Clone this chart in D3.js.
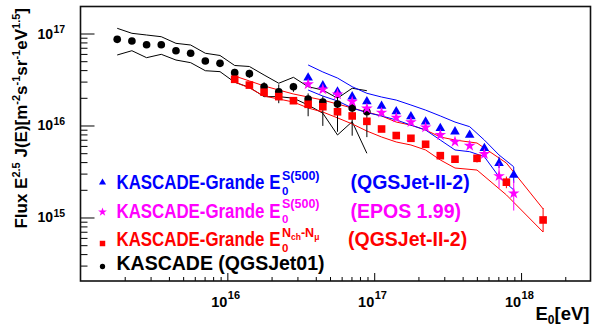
<!DOCTYPE html>
<html>
<head>
<meta charset="utf-8">
<script src="https://cdn.jsdelivr.net/npm/d3@7/dist/d3.min.js"></script>
<style>
  body { margin: 0; background: #fff; }
  text { font-family: "Liberation Sans", Arial, Helvetica, sans-serif; font-weight: bold; }
</style>
</head>
<body>
<div id="chart"></div>
<script>
//Datasets (energies as log10(E/eV), flux in m^-2 s^-1 sr^-1 eV^1.5)

// KASCADE (QGSJet01)
var kascadeLogE = [15.25, 15.35, 15.45, 15.55, 15.65, 15.75, 15.85, 15.95, 16.05, 16.15, 16.25, 16.35, 16.45, 16.55, 16.65, 16.75, 16.85, 16.95];
var kascadeFlux = [8.65e16, 8.28e16, 7.55e16, 7.55e16, 6.50e16, 6.10e16, 5.02e16, 4.74e16, 3.75e16, 3.66e16, 2.64e16, 2.33e16, 2.64e16, 1.94e16, 1.80e16, 1.71e16, 1.55e16, 1.41e16];
var kascadeErrUp = [0.02, 0.02, 0.02, 0.02, 0.02, 0.02, 0.02, 0.02, 0.10, 0.10, 0.12, 0.20, 0.10, 0.15, 0.15, 0.20, 0.20, 0.19];
var kascadeErrDown = [0.02, 0.02, 0.02, 0.02, 0.02, 0.02, 0.02, 0.02, 0.10, 0.10, 0.20, 0.25, 0.12, 0.35, 0.45, 0.50, 0.50, 0.47];
var kascadeSysUp = [1.139e17, 1.005e17, 9.63e16, 9.23e16, 7.82e16, 7.50e16, 6.10e16, 5.77e16, 4.49e16, 4.38e16, 3.54e16, 2.88e16, 3.34e16, 2.64e16, 2.43e16, 1.98e16, 2.54e16, 2.39e16];
var kascadeSysDown = [5.84e16, 6.50e16, 5.46e16, 5.94e16, 5.15e16, 4.82e16, 3.94e16, 3.85e16, 2.95e16, 2.60e16, 2.06e16, 2.06e16, 1.98e16, 1.67e16, 1.36e16, 7.89e15, 1.10e16, 4.99e15];

// KASCADE-Grande S(500), QGSJet-II-2 and EPOS 1.99
var s500LogE = [16.55, 16.65, 16.75, 16.85, 16.95, 17.05, 17.15, 17.25, 17.35, 17.45, 17.55, 17.65, 17.75, 17.85, 17.95];
var s500QgsFlux = [3.31e16, 2.71e16, 2.33e16, 2.06e16, 1.82e16, 1.63e16, 1.42e16, 1.25e16, 1.10e16, 9.33e15, 8.57e15, 7.89e15, 5.65e15, 3.88e15, 2.90e15];
var s500QgsErrUp = [0.02, 0.02, 0.02, 0.02, 0.02, 0.02, 0.02, 0.02, 0.02, 0.03, 0.03, 0.04, 0.08, 0.18, 0.22];
var s500QgsErrDown = [0.02, 0.02, 0.02, 0.02, 0.02, 0.02, 0.02, 0.02, 0.02, 0.03, 0.03, 0.04, 0.08, 0.11, 0.18];
var s500QgsSysUp = [4.55e16, 3.82e16, 3.28e16, 2.64e16, 2.24e16, 2.04e16, 1.89e16, 1.67e16, 1.47e16, 1.27e16, 1.09e16, 9.71e15, 6.95e15, 4.78e15, 3.56e15];
var s500QgsSysDown = [2.43e16, 2.09e16, 1.85e16, 1.55e16, 1.38e16, 1.27e16, 1.15e16, 1.01e16, 8.93e15, 6.95e15, 5.42e15, 5.19e15, 4.58e15, 2.77e15, 1.99e15];
var s500EposFlux = [2.81e16, 2.47e16, 2.18e16, 1.82e16, 1.53e16, 1.38e16, 1.22e16, 1.09e16, 9.55e15, 7.89e15, 6.67e15, 6.03e15, 4.90e15, 2.82e15, 1.83e15];
var s500EposErrUp = [0.02, 0.02, 0.02, 0.02, 0.02, 0.02, 0.02, 0.02, 0.02, 0.03, 0.03, 0.04, 0.10, 0.38, 0.38];
var s500EposErrDown = [0.02, 0.02, 0.02, 0.02, 0.02, 0.02, 0.02, 0.02, 0.02, 0.03, 0.03, 0.04, 0.10, 0.26, 0.35];

// KASCADE-Grande Nch-Nmu, QGSJet-II-2
var nchLogE = [16.05, 16.15, 16.25, 16.35, 16.45, 16.55, 16.65, 16.75, 16.85, 16.95, 17.05, 17.15, 17.25, 17.35, 17.45, 17.55, 17.70, 17.90, 18.15];
var nchFlux = [3.18e16, 2.75e16, 2.30e16, 2.06e16, 1.86e16, 1.70e16, 1.60e16, 1.41e16, 1.27e16, 1.11e16, 9.16e15, 7.78e15, 7.26e15, 6.25e15, 4.70e15, 4.30e15, 4.40e15, 2.42e15, 9.40e14];
var nchErrUp = [0.02, 0.02, 0.02, 0.02, 0.02, 0.02, 0.02, 0.02, 0.02, 0.02, 0.03, 0.03, 0.03, 0.04, 0.05, 0.08, 0.10, 0.15, 0.35];
var nchErrDown = [0.02, 0.02, 0.02, 0.02, 0.02, 0.02, 0.02, 0.02, 0.02, 0.02, 0.03, 0.03, 0.03, 0.04, 0.05, 0.08, 0.10, 0.14, 0.26];
var nchSysUp = [3.45e16, 3.05e16, 2.69e16, 2.43e16, 2.20e16, 2.04e16, 1.89e16, 1.71e16, 1.55e16, 1.40e16, 1.27e16, 1.09e16, 1.01e16, 8.93e15, 7.50e15, 6.95e15, 6.45e15, 3.91e15, 1.24e15];
var nchSysDown = [2.97e16, 2.56e16, 2.09e16, 1.94e16, 1.80e16, 1.55e16, 1.40e16, 1.21e16, 1.04e16, 8.71e15, 7.50e15, 6.62e15, 6.14e15, 5.42e15, 4.22e15, 3.45e15, 3.28e15, 1.76e15, 6.95e14];

// axis decades that carry a label
var xTickExponents = [16, 17, 18];
var yTickExponents = [15, 16, 17];

//Chart start
var width = 592,
    height = 326;
var frame = {left: 80.5, right: 590.5, top: 6.5, bottom: 281};

var x = d3.scaleLog().domain([1e15, 2.97e18]).range([frame.left, frame.right]);
var y = d3.scaleLog().domain([2.04e14, 1.966e17]).range([frame.bottom, frame.top]);

var svg = d3.select("#chart")
    .append("svg")
    .attr("width", width)
    .attr("height", height);

function points(logE, flux) {
    return logE.map(function (e, i) { return [Math.pow(10, e), flux[i]]; });
}

var line = d3.line()
    .x(function (d) { return x(d[0]); })
    .y(function (d) { return y(d[1]); });

// systematic bands (two thin lines each)
var bands = [
    {logE: kascadeLogE, up: kascadeSysUp, down: kascadeSysDown, color: "#000000"},
    {logE: nchLogE, up: nchSysUp, down: nchSysDown, color: "#ff0000"},
    {logE: s500LogE, up: s500QgsSysUp, down: s500QgsSysDown, color: "#0000ff"}
];
bands.forEach(function (b) {
    [b.up, b.down].forEach(function (arr) {
        svg.append("path")
            .datum(points(b.logE, arr))
            .attr("fill", "none")
            .attr("stroke", b.color)
            .attr("stroke-width", 1)
            .attr("d", line);
    });
});

// data points with error bars
var series = [
    {logE: kascadeLogE, flux: kascadeFlux, up: kascadeErrUp, down: kascadeErrDown, color: "#000000", type: d3.symbolCircle, size: 46},
    {logE: nchLogE, flux: nchFlux, up: nchErrUp, down: nchErrDown, color: "#ff0000", type: d3.symbolSquare, size: 58},
    {logE: s500LogE, flux: s500QgsFlux, up: s500QgsErrUp, down: s500QgsErrDown, color: "#0000ff", type: d3.symbolTriangle, size: 40},
    {logE: s500LogE, flux: s500EposFlux, up: s500EposErrUp, down: s500EposErrDown, color: "#ff00ff", type: d3.symbolStar, size: 42}
];
series.forEach(function (s) {
    var g = svg.append("g");
    var data = s.logE.map(function (e, i) {
        return {E: Math.pow(10, e), f: s.flux[i], hi: s.flux[i] * (1 + s.up[i]), lo: s.flux[i] * (1 - s.down[i])};
    });
    g.selectAll("line.err")
        .data(data)
        .enter()
        .append("line")
        .attr("class", "err")
        .attr("x1", function (d) { return x(d.E); })
        .attr("x2", function (d) { return x(d.E); })
        .attr("y1", function (d) { return y(d.hi); })
        .attr("y2", function (d) { return y(d.lo); })
        .attr("stroke", s.color)
        .attr("stroke-width", 1);
    g.selectAll("path.mark")
        .data(data)
        .enter()
        .append("path")
        .attr("class", "mark")
        .attr("d", d3.symbol().type(s.type).size(s.size))
        .attr("fill", s.color)
        .attr("transform", function (d) { return "translate(" + x(d.E) + "," + y(d.f) + ")"; });
});

// axes: ticks point into the frame
var xMinor = [], yMinor = [];
for (var p = 14; p <= 18; p++) {
    for (var m = 2; m <= 9; m++) {
        var v = m * Math.pow(10, p);
        if (v > x.domain()[0] && v < x.domain()[1]) xMinor.push(v);
        if (v > y.domain()[0] && v < y.domain()[1]) yMinor.push(v);
    }
}
var xMajor = xTickExponents.map(function (e) { return Math.pow(10, e); });
var yMajor = yTickExponents.map(function (e) { return Math.pow(10, e); });

function drawAxis(axis, pos) {
    var g = svg.append("g").attr("transform", pos).call(axis);
    g.select(".domain").remove();
    g.selectAll("line").attr("stroke", "#000").attr("stroke-width", 1);
    return g;
}
drawAxis(d3.axisBottom(x).tickValues(xMajor).tickSizeInner(-8).tickSizeOuter(0).tickFormat(""), "translate(0," + frame.bottom + ")");
drawAxis(d3.axisBottom(x).tickValues(xMinor).tickSizeInner(-4).tickSizeOuter(0).tickFormat(""), "translate(0," + frame.bottom + ")");
drawAxis(d3.axisLeft(y).tickValues(yMajor).tickSizeInner(-14).tickSizeOuter(0).tickFormat(""), "translate(" + frame.left + ",0)");
drawAxis(d3.axisLeft(y).tickValues(yMinor).tickSizeInner(-7).tickSizeOuter(0).tickFormat(""), "translate(" + frame.left + ",0)");

// frame
svg.append("rect")
    .attr("x", frame.left)
    .attr("y", frame.top)
    .attr("width", frame.right - frame.left)
    .attr("height", frame.bottom - frame.top)
    .attr("fill", "none")
    .attr("stroke", "#111")
    .attr("stroke-width", 1.6);

// tick labels 10^n
xTickExponents.forEach(function (e) {
    var px = x(Math.pow(10, e));
    svg.append("text").attr("x", px).attr("y", 307).attr("text-anchor", "end")
        .attr("font-size", 14.5).text("10");
    svg.append("text").attr("x", px + 0.5).attr("y", 299).attr("font-size", 11).text(e);
});
yTickExponents.forEach(function (e) {
    var py = y(Math.pow(10, e));
    svg.append("text").attr("x", 53).attr("y", py + 5).attr("text-anchor", "end")
        .attr("font-size", 14).text("10");
    svg.append("text").attr("x", 53.5).attr("y", py - 0.5).attr("font-size", 10.5).text(e);
});

// axis titles
var xt = svg.append("text").attr("x", 589.5).attr("y", 320).attr("text-anchor", "end").attr("font-size", 18.5);
xt.append("tspan").text("E");
xt.append("tspan").attr("font-size", 12).attr("dy", 4).text("0");
xt.append("tspan").attr("dy", -4).text("[eV]");

var yt = svg.append("text")
    .attr("transform", "translate(27,8) rotate(-90)")
    .attr("text-anchor", "end")
    .attr("font-size", 17);
yt.append("tspan").text("Flux E");
yt.append("tspan").attr("font-size", 11).attr("dy", -7).text("2.5");
yt.append("tspan").attr("dy", 7).text(" J(E)[m");
yt.append("tspan").attr("font-size", 11).attr("dy", -7).text("-2");
yt.append("tspan").attr("dy", 7).text("s");
yt.append("tspan").attr("font-size", 11).attr("dy", -7).text("-1");
yt.append("tspan").attr("dy", 7).text("sr");
yt.append("tspan").attr("font-size", 11).attr("dy", -7).text("-1");
yt.append("tspan").attr("dy", 7).text("eV");
yt.append("tspan").attr("font-size", 11).attr("dy", -7).text("1.5");
yt.append("tspan").attr("dy", 7).text("]");

// legend
var legend = [
    {color: "#0000ff", type: d3.symbolTriangle, size: 22, my: 182.5, base: 189, sup: "S(500)", tail: "(QGSJet-II-2)", tx: 350.5},
    {color: "#ff00ff", type: d3.symbolStar, size: 24, my: 212, base: 217.5, sup: "S(500)", tail: "(EPOS 1.99)", tx: 350.5},
    {color: "#ff0000", type: d3.symbolSquare, size: 30, my: 243.5, base: 246, sup: "nch", tail: "(QGSJet-II-2)", tx: 348},
    {color: "#000000", type: d3.symbolCircle, size: 22, my: 266.5, base: 270, sup: null, tail: null}
];
legend.forEach(function (l) {
    svg.append("path")
        .attr("d", d3.symbol().type(l.type).size(l.size))
        .attr("fill", l.color)
        .attr("transform", "translate(102.5," + l.my + ")");
    var head = svg.append("text")
        .attr("transform", "translate(116.5," + l.base + ")")
        .attr("font-size", 19.5).attr("fill", l.color)
        .text(l.sup ? "KASCADE-Grande E" : "KASCADE (QGSJet01)");
    if (!l.sup) return;
    // the reference squeezes this part of the label
    var sx = 164 / head.node().getComputedTextLength();
    head.attr("transform", "translate(116.5," + l.base + ") scale(" + sx + ",1)");
    var ex = 282;
    svg.append("text").attr("x", ex).attr("y", l.base + 5.5)
        .attr("font-size", 11.5).attr("fill", l.color).text("0");
    var st = svg.append("text").attr("x", ex).attr("y", l.base - 9.5)
        .attr("font-size", 12.5).attr("fill", l.color);
    if (l.sup === "nch") {
        st.append("tspan").text("N");
        st.append("tspan").attr("font-size", 8.5).attr("dy", 3).text("ch");
        st.append("tspan").attr("dy", -3).text("-N");
        st.append("tspan").attr("font-size", 8.5).attr("dy", 3).text("\u03bc");
    } else {
        st.text(l.sup);
    }
    svg.append("text").attr("x", l.tx).attr("y", l.base)
        .attr("font-size", 19.5).attr("fill", l.color).text(l.tail);
});
//Chart end
</script>
</body>
</html>
